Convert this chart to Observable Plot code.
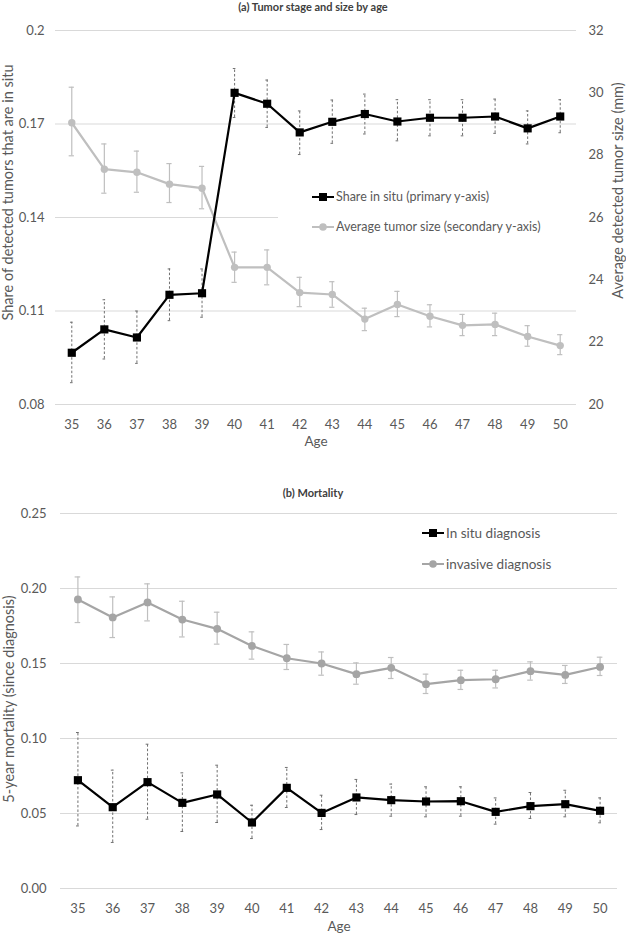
<!DOCTYPE html>
<html><head><meta charset="utf-8">
<script src="https://cdn.jsdelivr.net/npm/d3@7"></script>
<script src="https://cdn.jsdelivr.net/npm/@observablehq/plot@0.6"></script>
<style>
body{margin:0;background:#fff;font-family:Lato,"Open Sans",sans-serif;}
#wrap{position:relative;width:626px;height:938px;overflow:hidden;}
#wrap svg.plot{position:absolute;left:0;}
.title{position:absolute;left:0;width:626px;text-align:center;font-weight:bold;font-size:11px;color:#404040;line-height:14px;}
.legbox{position:absolute;background:#fff;}
.leg{position:absolute;font-size:12.5px;color:#595959;white-space:nowrap;display:flex;align-items:center;line-height:16px;}
.leg svg{margin-right:2px;}
</style></head>
<body>
<div id="wrap"></div>
<script>
const ages = [35,36,37,38,39,40,41,42,43,44,45,46,47,48,49,50];

// (a) Share of detected tumors that are in situ (primary axis)
const shareInSitu   = [0.0966,0.1041,0.1015,0.1152,0.1157,0.1800,0.1765,0.1673,0.1707,0.1732,0.1708,0.1720,0.1720,0.1724,0.1686,0.1724];
const shareInSituLo = [0.0870,0.0946,0.0932,0.1069,0.1080,0.1721,0.1689,0.1602,0.1638,0.1668,0.1646,0.1662,0.1662,0.1670,0.1636,0.1672];
const shareInSituHi = [0.1064,0.1136,0.1100,0.1235,0.1235,0.1878,0.1841,0.1742,0.1777,0.1796,0.1778,0.1778,0.1778,0.1780,0.1742,0.1778];
// (a) Average detected tumor size, mm (secondary axis)
const tumorSize   = [29.04,27.55,27.45,27.07,26.94,24.40,24.40,23.59,23.53,22.74,23.21,22.83,22.54,22.57,22.18,21.89];
const tumorSizeLo = [27.98,26.78,26.81,26.48,26.28,23.92,23.84,23.14,23.12,22.37,22.82,22.49,22.21,22.21,21.87,21.60];
const tumorSizeHi = [30.18,28.36,28.13,27.73,27.64,24.89,24.96,24.08,23.94,23.09,23.63,23.20,22.89,22.93,22.53,22.24];

// (b) 5-year mortality
const mortInSitu   = [0.0722,0.0542,0.0709,0.0571,0.0627,0.0440,0.0671,0.0504,0.0607,0.0589,0.0580,0.0582,0.0511,0.0549,0.0562,0.0518];
const mortInSituLo = [0.0417,0.0307,0.0462,0.0380,0.0440,0.0333,0.0540,0.0393,0.0493,0.0482,0.0478,0.0482,0.0429,0.0467,0.0478,0.0438];
const mortInSituHi = [0.1040,0.0789,0.0962,0.0771,0.0822,0.0555,0.0807,0.0622,0.0727,0.0696,0.0678,0.0678,0.0604,0.0640,0.0655,0.0604];
const mortInvasive   = [0.1927,0.1807,0.1907,0.1793,0.1731,0.1617,0.1535,0.1500,0.1429,0.1471,0.1362,0.1389,0.1395,0.1449,0.1424,0.1477];
const mortInvasiveLo = [0.1773,0.1673,0.1784,0.1677,0.1629,0.1529,0.1460,0.1422,0.1362,0.1400,0.1300,0.1327,0.1337,0.1389,0.1367,0.1420];
const mortInvasiveHi = [0.2077,0.1944,0.2031,0.1915,0.1842,0.1711,0.1627,0.1577,0.1504,0.1540,0.1429,0.1455,0.1455,0.1511,0.1487,0.1542];

const topLeftTicks  = [0.08,0.11,0.14,0.17,0.2];
const topRightTicks = [20,22,24,26,28,30,32];
const bottomTicks   = [0,0.05,0.10,0.15,0.20,0.25];

const titleA = "(a) Tumor stage and size by age";
const titleB = "(b) Mortality";
const yLabelA = "Share of detected tumors that are in situ";
const yLabelA2 = "Average detected tumor size (mm)";
const yLabelB = "5-year mortality (since diagnosis)";
const xLabel = "Age";
const legendA = ["Share in situ (primary y-axis)", "Average tumor size (secondary y-axis)"];
const legendB = ["In situ diagnosis", "invasive diagnosis"];

// secondary axis (20–32 mm) shares the primary range (0.08–0.20)
const toPrimary = mm => 0.08 + (mm - 20) * 0.01;
const fromPrimary = v => 20 + (v - 0.08) * 100;

const TXT = "#595959", GRID = "#d9d9d9";
const topData = ages.map((a,i)=>({age:a, s:shareInSitu[i], sLo:shareInSituLo[i], sHi:shareInSituHi[i],
  m:toPrimary(tumorSize[i]), mLo:toPrimary(tumorSizeLo[i]), mHi:toPrimary(tumorSizeHi[i])}));
const botData = ages.map((a,i)=>({age:a, s:mortInSitu[i], sLo:mortInSituLo[i], sHi:mortInSituHi[i],
  v:mortInvasive[i], vLo:mortInvasiveLo[i], vHi:mortInvasiveHi[i]}));

const wrap = document.getElementById("wrap");
const style = {fontFamily:"Lato, 'Open Sans', sans-serif", fontSize:"13px", color:TXT, background:"transparent"};

function errBars(data, lo, hi, opts, cap){
  return [
    Plot.ruleX(data, {x:"age", y1:lo, y2:hi, ...opts}),
    Plot.ruleY(data, {y:lo, x1:d=>d.age-cap, x2:d=>d.age+cap, ...opts, strokeDasharray:null}),
    Plot.ruleY(data, {y:hi, x1:d=>d.age-cap, x2:d=>d.age+cap, ...opts, strokeDasharray:null})
  ];
}

const chartA = Plot.plot({
  width:626, height:470, marginTop:30, marginBottom:66, marginLeft:55, marginRight:50,
  style,
  x:{type:"linear", domain:[34.5,50.5]},
  y:{domain:[0.08,0.2]},
  marks:[
    Plot.ruleY(topLeftTicks, {stroke:GRID, strokeWidth:1}),
    Plot.axisY({ticks:topLeftTicks, tickSize:0, tickPadding:11, tickFormat:d=>String(d), label:null, fill:TXT}),
    Plot.axisY({anchor:"right", ticks:topRightTicks.map(toPrimary), tickSize:0, tickPadding:12,
      tickFormat:d=>String(Math.round(fromPrimary(d))), label:null, fill:TXT}),
    Plot.axisX({ticks:ages, tickSize:0, tickPadding:15, tickFormat:d=>String(d), label:null, fill:TXT}),
    Plot.text([xLabel], {frameAnchor:"bottom", dy:41, text:d=>d, fill:TXT, fontSize:13.5}),
    Plot.text([yLabelA], {frameAnchor:"left", textAnchor:"middle", dx:-47, dy:-25, rotate:-90, text:d=>d, fill:TXT, fontSize:14.5}),
    Plot.text([yLabelA2], {frameAnchor:"right", textAnchor:"middle", dx:42, dy:-27, rotate:-90, text:d=>d, fill:TXT, fontSize:14.5}),
    ...errBars(topData, "mLo", "mHi", {stroke:"#bfbfbf", strokeWidth:1.2}, 0.08),
    Plot.line(topData, {x:"age", y:"m", stroke:"#bfbfbf", strokeWidth:2.2}),
    Plot.dot(topData, {x:"age", y:"m", r:3.7, fill:"#bfbfbf", stroke:"none"}),
    ...errBars(topData, "sLo", "sHi", {stroke:"#707070", strokeWidth:1, strokeDasharray:"2.5,2"}, 0.04),
    Plot.line(topData, {x:"age", y:"s", stroke:"#000", strokeWidth:2.2}),
    Plot.dot(topData, {x:"age", y:"s", symbol:"square", r:4.6, fill:"#000", stroke:"none"})
  ]
});
chartA.classList.add("plot");
chartA.style.top = "0px";
wrap.appendChild(chartA);

const chartB = Plot.plot({
  width:626, height:468, marginTop:43, marginBottom:50, marginLeft:60, marginRight:9,
  style,
  x:{type:"linear", domain:[34.5,50.5]},
  y:{domain:[0,0.25]},
  marks:[
    Plot.ruleY(bottomTicks, {stroke:GRID, strokeWidth:1}),
    Plot.axisY({ticks:bottomTicks, tickSize:0, tickPadding:14, tickFormat:d3.format(".2f"), label:null, fill:TXT}),
    Plot.axisX({ticks:ages, tickSize:0, tickPadding:15, tickFormat:d=>String(d), label:null, fill:TXT}),
    Plot.text([xLabel], {frameAnchor:"bottom", dy:42, text:d=>d, fill:TXT, fontSize:13.5}),
    Plot.text([yLabelB], {frameAnchor:"left", textAnchor:"middle", dx:-51, dy:-2, rotate:-90, text:d=>d, fill:TXT, fontSize:14.5}),
    ...errBars(botData, "vLo", "vHi", {stroke:"#bfbfbf", strokeWidth:1.2}, 0.08),
    Plot.line(botData, {x:"age", y:"v", stroke:"#a5a5a5", strokeWidth:2.2}),
    Plot.dot(botData, {x:"age", y:"v", r:3.9, fill:"#a5a5a5", stroke:"none"}),
    ...errBars(botData, "sLo", "sHi", {stroke:"#707070", strokeWidth:1, strokeDasharray:"2.5,2"}, 0.04),
    Plot.line(botData, {x:"age", y:"s", stroke:"#000", strokeWidth:2.2}),
    Plot.dot(botData, {x:"age", y:"s", symbol:"square", r:4.6, fill:"#000", stroke:"none"})
  ]
});
chartB.classList.add("plot");
chartB.style.top = "470px";
wrap.appendChild(chartB);

function addDiv(cls, css, html){
  const d = document.createElement("div");
  d.className = cls; d.style.cssText = css; d.innerHTML = html; wrap.appendChild(d); return d;
}
const swSquare = '<svg width="22" height="10"><line x1="0" y1="5" x2="22" y2="5" stroke="#000" stroke-width="2"/><rect x="7" y="1" width="8" height="8" fill="#000"/></svg>';
const swCircle = c => `<svg width="22" height="10"><line x1="0" y1="5" x2="22" y2="5" stroke="${c}" stroke-width="2"/><circle cx="11" cy="5" r="3.8" fill="${c}"/></svg>`;

addDiv("title", "top:0px;", titleA);
addDiv("title", "top:486px;", titleB);

addDiv("legbox", "left:278px;top:183px;width:300px;height:57px;", "");
addDiv("leg", "left:312px;top:189px;", swSquare + legendA[0]);
addDiv("leg", "left:312px;top:219px;", swCircle("#bfbfbf") + legendA[1]);

addDiv("leg", "left:422px;top:525px;font-size:13.5px;", swSquare + legendB[0]);
addDiv("leg", "left:422px;top:556px;font-size:13.5px;", swCircle("#a5a5a5") + legendB[1]);
</script>
</body></html>
